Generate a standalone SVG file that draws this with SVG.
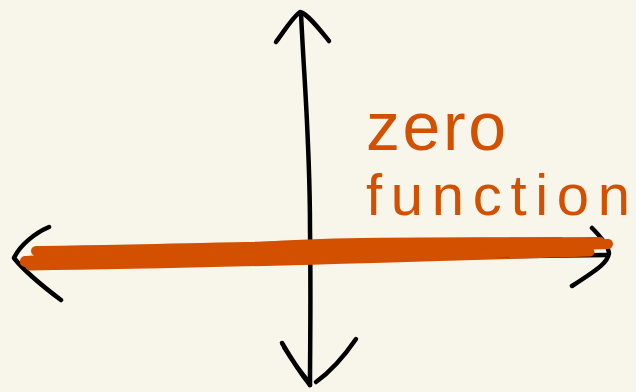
<svg xmlns="http://www.w3.org/2000/svg" width="636" height="392" viewBox="0 0 636 392">
<style>
.ax{fill:none;stroke:#000;stroke-width:4.5;stroke-linecap:round;stroke-linejoin:round}
.band{fill:none;stroke:#D25000;stroke-linecap:round;stroke-linejoin:round}
.lbl{fill:#D25000;font-family:"Liberation Sans","DejaVu Sans",sans-serif}
</style>
<rect width="636" height="392" fill="#F8F6EA"/>
<g id="connectors">
<g id="y-axis">
<path class="ax" d="M301,13 C304,80 310,140 310,230 C311,300 310,350 310,385"/>
<path class="ax" d="M276,42 C285,30 292,18 300,12 C308,14 320,30 329,41"/>
<path class="ax" d="M282,343 C292,360 302,375 310,385 M284,347 C292,360 300,372 309,382 M356,339 C345,355 330,372 316,382"/>
</g>
<g id="x-axis">
<path class="ax" d="M22,262 C200,262 400,257 608,255"/>
<path class="ax" d="M49,227 C35,233 20,245 14,258 C25,272 45,288 61,300"/>
<path class="ax" d="M592,228 C600,236 608,245 609,253 C608,262 600,268 572,286"/>
</g>
</g>
<g id="zero-function">
<path class="band" stroke-width="10" d="M25,262 C200,260 400,252 608,244"/>
<path class="band" stroke-width="10" d="M36,251 C200,249 400,242 600,242 C450,244 300,247 120,255 C80,257 40,260 25,261"/>
<path class="band" stroke-width="9" d="M30,266 C200,264 400,258 590,252 C450,254 300,256 150,258"/>
<path class="band" stroke-width="8" d="M260,246 C350,240 450,242 560,241 M250,262 C350,258 450,255 580,250"/>
<path class="band" stroke-width="6" d="M100,258 C200,256 300,252 480,249"/>
<text class="lbl" x="366" y="150" font-size="68" textLength="140" lengthAdjust="spacing">zero</text>
<text class="lbl" x="366" y="215" font-size="58" textLength="264" lengthAdjust="spacing">function</text>
</g>
</svg>
